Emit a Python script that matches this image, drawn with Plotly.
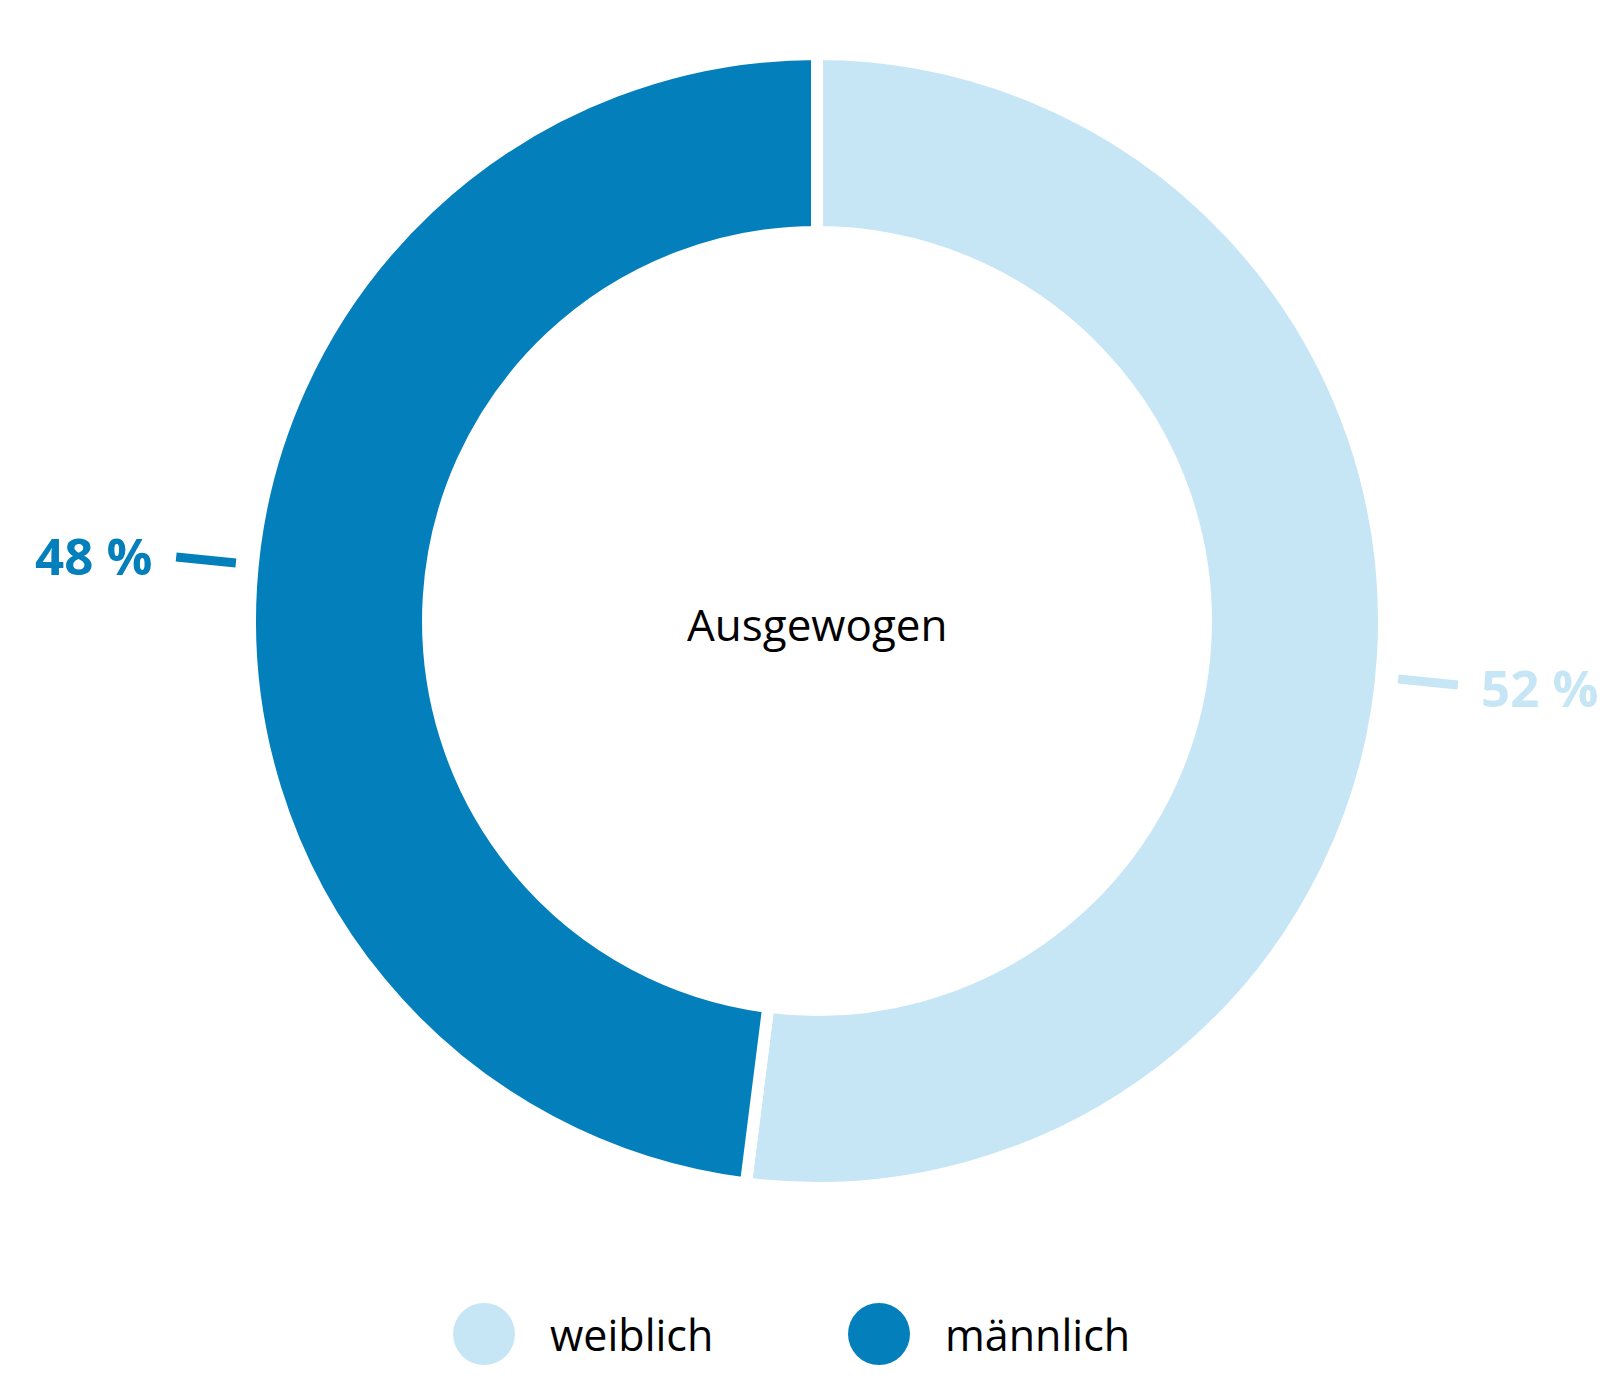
import math
import plotly.graph_objects as go

# ---- data ----
categories = ["weiblich", "männlich"]
values = [52, 48]
label_texts = ["52 %", "48 %"]
center_text = "Ausgewogen"

# ---- style ----
colors = ["#c6e6f6", "#037fbc"]
W, H = 1620, 1396
CX, CY = 809, 613          # pie centre in px
R = 567                    # pie radius in px (incl. half white stroke)
HOLE = 0.686
STROKE = 12
LINE_R0, LINE_R1, TEXT_R = 584, 644, 665
LABEL_ROTATE = 2.1         # degrees
FONT = "Open Sans"

def px(x):
    return x / W

def py(y):
    return 1 - y / H

fig = go.Figure()
fig.add_trace(go.Pie(
    labels=categories, values=values, sort=False, direction="clockwise",
    rotation=0, hole=HOLE, textinfo="none", hoverinfo="label+percent",
    marker=dict(colors=colors, line=dict(color="white", width=STROKE)),
    domain=dict(x=[px(CX - R), px(CX + R)], y=[py(CY + R), py(CY - R)]),
    showlegend=False,
))

shapes = []
annotations = []
total = sum(values)
cum = 0
for i, (v, t) in enumerate(zip(values, label_texts)):
    mid = (cum + v / 2) / total * 360 + LABEL_ROTATE
    cum += v
    a = math.radians(mid)
    sx, sy = math.sin(a), -math.cos(a)
    shapes.append(dict(type="line", xref="paper", yref="paper",
                       x0=px(CX + LINE_R0 * sx), y0=py(CY + LINE_R0 * sy),
                       x1=px(CX + LINE_R1 * sx), y1=py(CY + LINE_R1 * sy),
                       line=dict(color=colors[i], width=9)))
    annotations.append(dict(xref="paper", yref="paper",
                            x=px(CX + TEXT_R * sx), y=py(CY + TEXT_R * sy),
                            text=f"<b>{t}</b>", showarrow=False,
                            xanchor="left" if sx > 0 else "right", yanchor="middle",
                            font=dict(family=FONT, size=51, color=colors[i])))

annotations.append(dict(xref="paper", yref="paper", x=px(CX), y=py(CY + 3),
                        text=center_text, showarrow=False,
                        xanchor="center", yanchor="middle",
                        font=dict(family=FONT, size=44, color="#000000")))

# legend
LEG_X0, LEG_STEP, LEG_Y, LEG_R, LEG_TXT = 476, 395, 1326, 31, 64
for i, c in enumerate(categories):
    x = LEG_X0 + i * LEG_STEP
    shapes.append(dict(type="circle", xref="paper", yref="paper",
                       x0=px(x - LEG_R), x1=px(x + LEG_R),
                       y0=py(LEG_Y + LEG_R), y1=py(LEG_Y - LEG_R),
                       fillcolor=colors[i], line=dict(width=0)))
    annotations.append(dict(xref="paper", yref="paper", x=px(x + LEG_TXT), y=py(LEG_Y),
                            text=c, showarrow=False, xanchor="left", yanchor="middle",
                            font=dict(family=FONT, size=43, color="#000000")))

fig.update_layout(width=W, height=H, margin=dict(l=0, r=0, t=0, b=0),
                  paper_bgcolor="white", plot_bgcolor="white",
                  shapes=shapes, annotations=annotations)
fig.write_html("out.html")
